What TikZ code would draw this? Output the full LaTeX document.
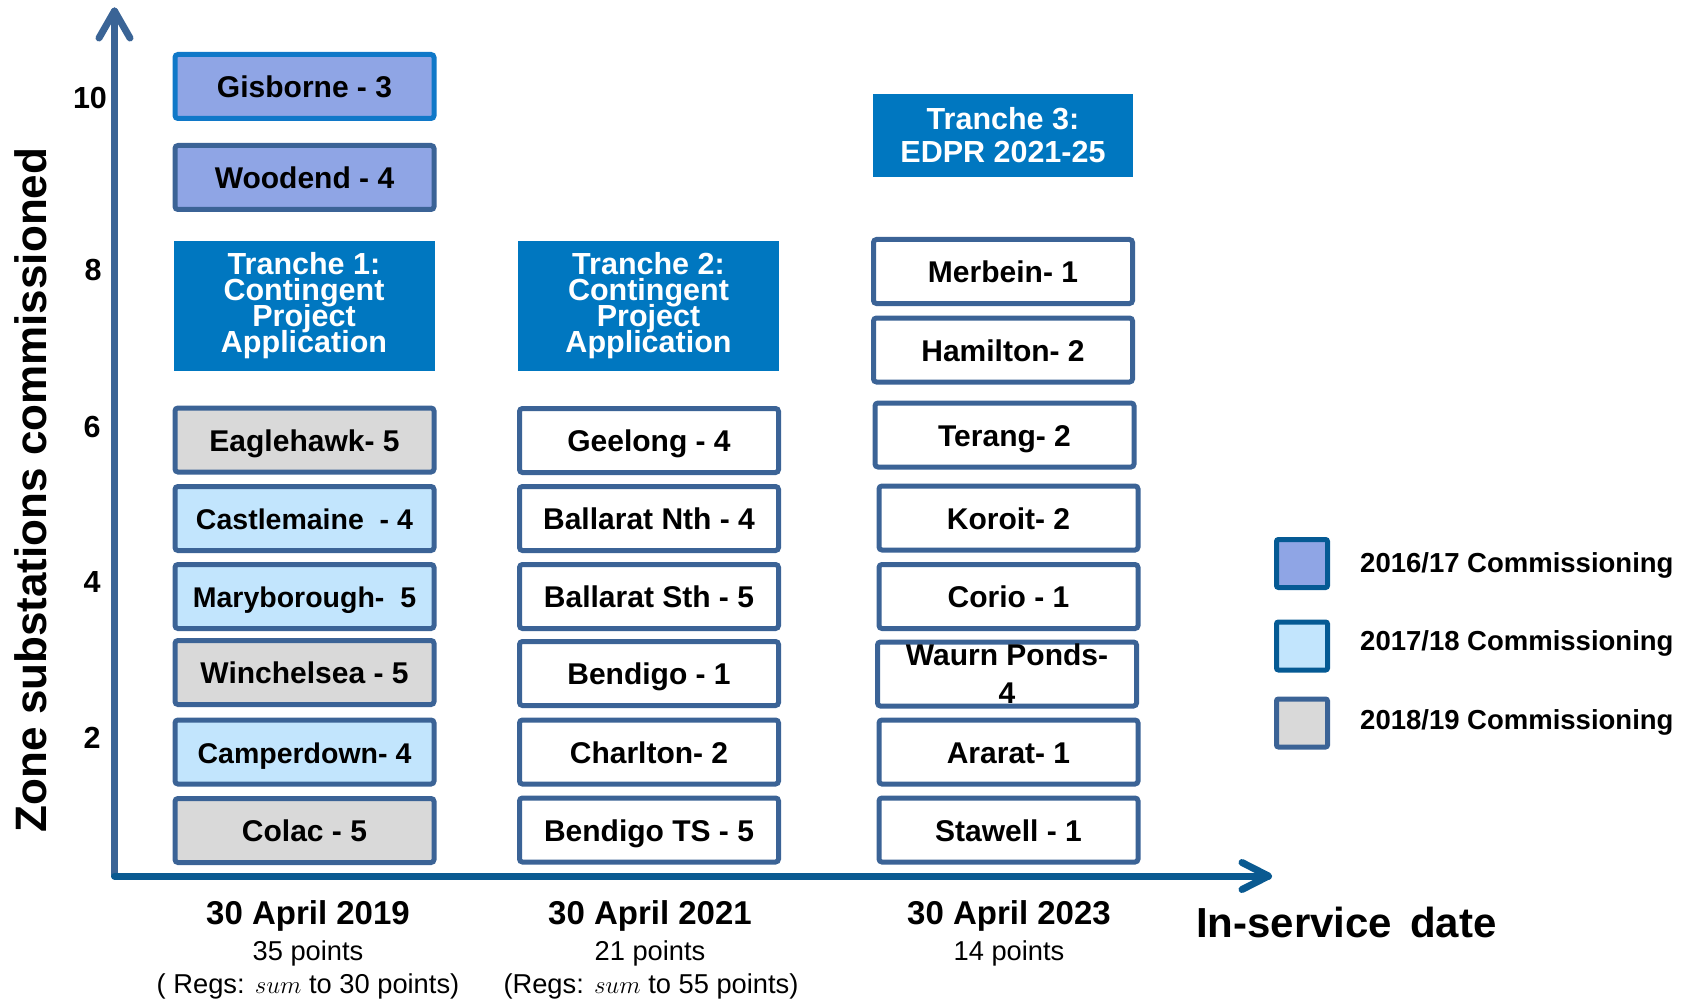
\documentclass[tikz,border=0pt]{standalone}
\usepackage{fontspec}
\setmainfont{Liberation Sans}
\definecolor{boxedge}{RGB}{59,99,150}
\definecolor{brightedge}{RGB}{16,120,200}
\definecolor{darkedge}{RGB}{5,90,148}
\definecolor{periwinkle}{RGB}{143,165,229}
\definecolor{paleblue}{RGB}{194,229,253}
\definecolor{palegray}{RGB}{217,217,217}
\definecolor{tranche}{RGB}{0,119,192}
\definecolor{xaxiscol}{RGB}{10,90,145}
\definecolor{yaxiscol}{RGB}{58,100,150}
\begin{document}
\begin{tikzpicture}[x=1pt,y=-1pt,
  stn/.style={draw=boxedge, line width=5pt, rounded corners=3pt,
    minimum width=259pt, minimum height=64pt, inner sep=0pt,
    font=\fontsize{30}{36}\selectfont\bfseries, text height=22pt, text depth=0pt},
  small/.style={font=\fontsize{28.5}{34}\selectfont\bfseries},
  trbox/.style={fill=tranche, text=white, minimum width=261pt, inner sep=0pt,
    align=center},
  trtext/.style={font={\fontsize{30.5}{26}\selectfont\bfseries\lineskiplimit=-50pt}},
  axisline/.style={line width=7pt, line cap=round, line join=round},
  tick/.style={font=\fontsize{30.5}{34}\selectfont\bfseries, inner sep=0pt},
  legsq/.style={line width=5pt, rounded corners=2pt, minimum width=51pt,
    minimum height=48pt, inner sep=0pt},
  legtxt/.style={anchor=west, inner sep=0pt, font=\fontsize{27.5}{30}\selectfont\bfseries},
  datelbl/.style={anchor=base, inner sep=0pt, font=\fontsize{33}{36}\selectfont\bfseries},
  ptslbl/.style={anchor=base, inner sep=0pt, font=\fontsize{27.3}{32}\selectfont},
]
\useasboundingbox (0,0) rectangle (1688,1000);

% axes
\coordinate (origin) at (114.5,876);
\coordinate (ytip) at (114.5,11);
\coordinate (xtip) at (1268.5,876);
\draw[axisline, draw=yaxiscol] (114.5,875) -- (ytip);
\draw[axisline, draw=yaxiscol] (99,38) -- (ytip) -- (130,38);
\draw[axisline, draw=xaxiscol] (origin) -- (xtip);
\draw[axisline, draw=xaxiscol] (1242,862.5) -- (xtip) -- (1242,889.5);

% axis ticks
\node[tick] (t10) at (90,98) {10};
\node[tick] (t8) at (93,270) {8};
\node[tick] (t6) at (92,427) {6};
\node[tick] (t4) at (92,582) {4};
\node[tick] (t2) at (92,738) {2};

% axis titles
\node[rotate=90, inner sep=0pt, font=\fontsize{44}{50}\selectfont\bfseries] (ytitle)
  at (31,490) {Zone substations commissioned};
\node[anchor=base west, inner sep=0pt, font=\fontsize{42}{48}\selectfont\bfseries] (xtitle)
  at (1196,937) {In-service\hspace{18pt}date};

% tranche 1 column
\node[stn, draw=brightedge, fill=periwinkle] (gis) at (304.5,86.5) {Gisborne - 3};
\node[stn, fill=periwinkle] (woo) at (304.5,177.5) {Woodend - 4};
\node[trbox, trtext, minimum height=130pt] (tr1)
  at (304,306) {Tranche 1:\\Contingent\\Project\\Application};
\node[stn, fill=palegray] (eag) at (304.5,440) {Eaglehawk- 5};
\node[stn, small, fill=paleblue] (cas) at (304.5,518.5) {Castlemaine\ \ - 4};
\node[stn, small, fill=paleblue] (mar) at (304.5,596.5) {Maryborough-\ \ 5};
\node[stn, fill=palegray] (win) at (304.5,672.5) {Winchelsea - 5};
\node[stn, small, fill=paleblue] (cam) at (304.5,752) {Camperdown- 4};
\node[stn, fill=palegray] (col) at (304.5,830.5) {Colac - 5};

% tranche 2 column
\node[trbox, trtext, minimum height=130pt] (tr2)
  at (648.5,306) {Tranche 2:\\Contingent\\Project\\Application};
\node[stn, fill=white] (gee) at (649,440.5) {Geelong - 4};
\node[stn, fill=white] (bnth) at (649,518.5) {Ballarat Nth - 4};
\node[stn, fill=white] (bsth) at (649,596.5) {Ballarat Sth - 5};
\node[stn, fill=white] (ben) at (649,673.5) {Bendigo - 1};
\node[stn, fill=white] (cha) at (649,752) {Charlton- 2};
\node[stn, fill=white] (bts) at (649,830) {Bendigo TS - 5};

% tranche 3 column
\node[trbox, minimum width=260pt, minimum height=83pt, font=\fontsize{30.5}{33}\selectfont\bfseries] (tr3)
  at (1003,135.5) {Tranche 3:\\EDPR 2021-25};
\node[stn, fill=white] (mer) at (1003,271.5) {Merbein- 1};
\node[stn, fill=white] (ham) at (1003,350) {Hamilton- 2};
\node[stn, fill=white] (ter) at (1004.5,435) {Terang- 2};
\node[stn, fill=white] (kor) at (1008.5,518) {Koroit- 2};
\node[stn, fill=white] (cor) at (1008.5,596.5) {Corio - 1};
\node[stn, fill=white, align=center, text height={}, text depth={},
  font=\fontsize{30}{38}\selectfont\bfseries] (wau) at (1007,674) {Waurn Ponds-\\4};
\node[stn, fill=white] (ara) at (1008.5,752) {Ararat- 1};
\node[stn, fill=white] (sta) at (1008.5,830) {Stawell - 1};

% date labels
\node[datelbl] (d1) at (308,924) {30 April 2019};
\node[ptslbl] (p1) at (308,960) {35 points};
\node[ptslbl] (r1) at (308,993) {( Regs: $sum$ to 30 points)};
\node[datelbl] (d2) at (650,924) {30 April 2021};
\node[ptslbl] (p2) at (650,960) {21 points};
\node[ptslbl] (r2) at (651,993) {(Regs: $sum$ to 55 points)};
\node[datelbl] (d3) at (1009,924) {30 April 2023};
\node[ptslbl] (p3) at (1009,960) {14 points};

% legend
\node[legsq, draw=darkedge, fill=periwinkle] (lg1) at (1302,563.5) {};
\node[legsq, draw=darkedge, fill=paleblue] (lg2) at (1302,646) {};
\node[legsq, draw=boxedge, fill=palegray] (lg3) at (1302,723) {};
\node[legtxt] (lt1) at (1360,565) {2016/17 Commissioning};
\node[legtxt] (lt2) at (1360,643) {2017/18 Commissioning};
\node[legtxt] (lt3) at (1360,722) {2018/19 Commissioning};
\end{tikzpicture}
\end{document}
